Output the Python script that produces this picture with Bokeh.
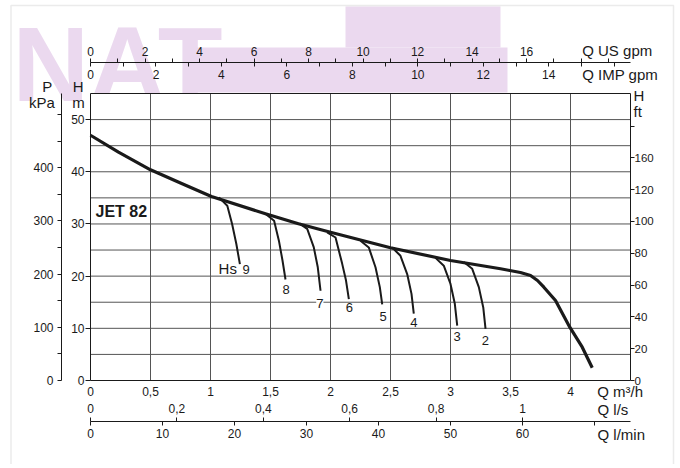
from bokeh.plotting import figure
from bokeh.models import Range1d, LinearAxis, FixedTicker, Label, BoxAnnotation, ColumnDataSource
from bokeh.core.properties import value
from bokeh.embed import file_html
from bokeh.resources import INLINE

FONT = "Liberation Sans"
INK = "#1a1a1a"

# ---------------- data ----------------
# main pump curve (Q m3/h, H m)
curve_q = [0.0, 0.233, 0.5, 0.764, 1.008, 1.458, 1.733, 2.0, 2.5, 3.0, 3.417, 3.494, 3.583, 3.667, 3.725, 3.778, 3.875, 3.994, 4.098, 4.181]
curve_h = [47.0, 43.75, 40.38, 37.7, 35.26, 31.95, 30.03, 28.42, 25.43, 23.0, 21.41, 21.08, 20.70, 20.12, 19.16, 17.88, 15.33, 10.21, 6.38, 2.43]

# suction-lift curves Hs 9 ... 2
hs_names = ["9", "8", "7", "6", "5", "4", "3", "2"]
hs_q = [
    [1.07, 1.14, 1.18, 1.215, 1.245],
    [1.46, 1.53, 1.57, 1.60, 1.625],
    [1.74, 1.806, 1.861, 1.894, 1.917],
    [1.972, 2.042, 2.097, 2.129, 2.153],
    [2.25, 2.319, 2.375, 2.411, 2.431],
    [2.514, 2.583, 2.639, 2.675, 2.694],
    [2.875, 2.944, 3.0, 3.036, 3.056],
    [3.111, 3.181, 3.236, 3.273, 3.292],
]
hs_h = [
    [35.1, 33.5, 30.0, 26.2, 22.3],
    [31.9, 30.6, 26.8, 23.0, 19.35],
    [30.1, 29.05, 25.5, 21.7, 17.2],
    [28.4, 27.4, 22.4, 19.2, 15.6],
    [26.8, 25.5, 21.7, 17.9, 14.6],
    [25.5, 23.9, 20.4, 16.6, 12.8],
    [23.5, 22.0, 18.5, 14.7, 10.5],
    [22.7, 21.4, 17.9, 14.0, 9.9],
]
hs_label_q = [1.2975, 1.631, 1.911, 2.158, 2.439, 2.694, 3.056, 3.29]
hs_label_h = [21.2, 17.4, 14.7, 13.9, 12.3, 11.1, 8.5, 7.7]

# axis ticks / labels
q_ticks = [0, 0.5, 1, 1.5, 2, 2.5, 3, 3.5, 4]
q_labels = ["0", "0,5", "1", "1,5", "2", "2,5", "3", "3,5", "4"]
ls_ticks = [0, 0.2, 0.4, 0.6, 0.8, 1.0]
ls_labels = ["0", "0,2", "0,4", "0,6", "0,8", "1"]
lmin_ticks = [0, 10, 20, 30, 40, 50, 60, 70]
lmin_labels = ["0", "10", "20", "30", "40", "50", "60", ""]
us_ticks = list(range(0, 20))
us_labels = [str(t) if (t % 2 == 0 and t <= 16) else "" for t in us_ticks]
imp_ticks = list(range(0, 17))
imp_label_ticks = [0, 2, 4, 6, 8, 10, 12, 14]
m_ticks = [0, 10, 20, 30, 40, 50]
kpa_ticks = [0, 100, 200, 300, 400]
kpa_minor = [50, 150, 250, 350, 450, 500]
ft_ticks = [0, 20, 40, 60, 80, 100, 120, 140, 160]
ft_labels = ["0", "20", "40", "60", "80", "100", "120", "160", ""]
grid_q = [0.5, 1, 1.5, 2, 2.5, 3, 3.5, 4]
grid_h = [5, 10, 15, 20, 25, 30, 35, 40, 45, 50]
Q_MAX, H_MAX = 4.5, 55

# unit conversions (per m3/h or per m)
KPA_PER_M = 9.80665
FT_PER_M = 1 / 0.3048
US_PER_M3H = 1 / 0.227125
IMP_PER_M3H = 1 / 0.272765
LS_PER_M3H = 1 / 3.6
LMIN_PER_M3H = 1000 / 60

# ---------------- canvas geometry ----------------
W, HGT = 676, 464
FX0, FX1 = 90, 630      # pixel x of Q=0 and Q=4.5
FY0, FY1 = 380, 93      # pixel y of H=0 and H=55


def px2q(px):
    return (px - FX0) * Q_MAX / (FX1 - FX0)


def py2h(py):
    return (FY0 - py) * H_MAX / (FY0 - FY1)


xr = Range1d(px2q(0), px2q(W))
yr = Range1d(py2h(HGT), py2h(0))

p = figure(width=W, height=HGT, x_range=xr, y_range=yr, output_backend="svg",
           toolbar_location=None, x_axis_location=None, y_axis_location=None, min_border=0)
p.outline_line_color = None
p.background_fill_color = "white"
p.border_fill_color = "white"
p.grid.visible = False

p.extra_y_ranges = {
    "kpa": Range1d(yr.start * KPA_PER_M, yr.end * KPA_PER_M),
    "ft": Range1d(yr.start * FT_PER_M, yr.end * FT_PER_M),
}
p.extra_x_ranges = {
    "us": Range1d(xr.start * US_PER_M3H, xr.end * US_PER_M3H),
    "imp": Range1d(xr.start * IMP_PER_M3H, xr.end * IMP_PER_M3H),
    "ls": Range1d(xr.start * LS_PER_M3H, xr.end * LS_PER_M3H),
    "lmin": Range1d(xr.start * LMIN_PER_M3H, xr.end * LMIN_PER_M3H),
}

# ---------------- decoration (watermark & outer frame) ----------------
LAV = "#ebd9ef"
p.add_layout(BoxAnnotation(left=px2q(183), right=px2q(507), top=py2h(47), bottom=py2h(92),
                           fill_color=LAV, fill_alpha=1, line_color=None, level="underlay"))
p.add_layout(BoxAnnotation(left=px2q(345), right=px2q(500), top=py2h(6), bottom=py2h(47),
                           fill_color=LAV, fill_alpha=1, line_color=None, level="underlay"))
p.add_layout(Label(x=px2q(12), y=py2h(63), text="NAT", text_font=FONT, text_font_size="106px",
                   text_font_style="bold", text_color=LAV, text_baseline="middle", level="underlay"))
p.add_layout(BoxAnnotation(left=px2q(10.5), right=px2q(673), top=py2h(5), bottom=py2h(490),
                           fill_alpha=0, line_color="#bdbdbd", line_width=1.5, level="underlay"))

# ---------------- grid ----------------
p.rect(x=Q_MAX / 2, y=H_MAX / 2, width=Q_MAX, height=H_MAX, fill_color="white", line_color=None)
p.segment(x0=grid_q, y0=[0] * len(grid_q), x1=grid_q, y1=[H_MAX] * len(grid_q),
          line_color="#555555", line_width=1)
p.segment(x0=[0] * len(grid_h), y0=grid_h, x1=[Q_MAX] * len(grid_h), y1=grid_h,
          line_color="#555555", line_width=1)
p.line(x=[0, Q_MAX], y=[H_MAX, H_MAX], line_color=INK, line_width=1)


def style(ax, size="12px"):
    ax.axis_line_color = INK
    ax.major_tick_line_color = INK
    ax.minor_tick_line_color = INK
    ax.major_label_text_font = FONT
    ax.major_label_text_font_size = size
    ax.major_label_text_color = INK
    ax.minor_tick_in = 0
    ax.minor_tick_out = 0
    ax.major_tick_in = 0


# m3/h axis (bottom of the grid)
xa = LinearAxis(fixed_location=0, bounds=(0, Q_MAX), ticker=FixedTicker(ticks=q_ticks),
                major_label_overrides=dict(zip(q_ticks, q_labels)))
style(xa)
xa.major_tick_out = 0
xa.major_label_standoff = 6
p.add_layout(xa, "below")

# l/s labels
ls_ax = LinearAxis(x_range_name="ls", fixed_location=py2h(401), bounds=(0, Q_MAX * LS_PER_M3H),
                   ticker=FixedTicker(ticks=ls_ticks), major_label_overrides=dict(zip(ls_ticks, ls_labels)))
style(ls_ax)
ls_ax.axis_line_color = None
ls_ax.major_tick_line_color = None
ls_ax.major_tick_out = 0
ls_ax.major_label_standoff = 2
p.add_layout(ls_ax, "below")

# l/min axis, with the l/s ticks pointing up
lmin_ax = LinearAxis(x_range_name="lmin", fixed_location=py2h(421), bounds=(0, Q_MAX * LMIN_PER_M3H),
                     ticker=FixedTicker(ticks=lmin_ticks, minor_ticks=[t * 60 for t in ls_ticks]),
                     major_label_overrides=dict(zip(lmin_ticks, lmin_labels)))
style(lmin_ax)
lmin_ax.major_tick_out = 4
lmin_ax.minor_tick_in = 4
lmin_ax.major_label_standoff = 3
p.add_layout(lmin_ax, "below")

# IMP gpm labels
imp_ax = LinearAxis(x_range_name="imp", fixed_location=py2h(80), bounds=(0, Q_MAX * IMP_PER_M3H),
                    ticker=FixedTicker(ticks=imp_label_ticks))
style(imp_ax)
imp_ax.axis_line_color = None
imp_ax.major_tick_line_color = None
imp_ax.major_tick_out = 0
imp_ax.major_label_standoff = 2
p.add_layout(imp_ax, "above")

# US gpm axis, with the IMP gpm ticks pointing down
us_ax = LinearAxis(x_range_name="us", fixed_location=py2h(62), bounds=(0, Q_MAX * US_PER_M3H),
                   ticker=FixedTicker(ticks=us_ticks, minor_ticks=[t * US_PER_M3H / IMP_PER_M3H for t in imp_ticks]),
                   major_label_overrides=dict(zip(us_ticks, us_labels)))
style(us_ax)
us_ax.major_tick_out = 4
us_ax.minor_tick_in = 4
us_ax.major_label_standoff = 3
p.add_layout(us_ax, "above")

# H m axis
ya = LinearAxis(fixed_location=0, bounds=(0, H_MAX), ticker=FixedTicker(ticks=m_ticks))
style(ya)
ya.major_tick_out = 5
ya.major_label_standoff = 1
p.add_layout(ya, "left")

# P kPa axis
kpa_ax = LinearAxis(y_range_name="kpa", fixed_location=px2q(61), bounds=(0, H_MAX * KPA_PER_M),
                    ticker=FixedTicker(ticks=kpa_ticks, minor_ticks=kpa_minor))
style(kpa_ax)
kpa_ax.major_tick_out = 4
kpa_ax.minor_tick_out = 4
kpa_ax.major_label_standoff = 4
p.add_layout(kpa_ax, "left")

# H ft axis
ft_ax = LinearAxis(y_range_name="ft", fixed_location=Q_MAX, bounds=(0, H_MAX * FT_PER_M),
                   ticker=FixedTicker(ticks=ft_ticks), major_label_overrides=dict(zip(ft_ticks, ft_labels)))
style(ft_ax, "11.5px")
ft_ax.major_tick_out = 4
ft_ax.major_label_standoff = 0
p.add_layout(ft_ax, "right")

# ---------------- curves ----------------
p.multi_line(xs=hs_q, ys=hs_h, line_color=INK, line_width=2)
p.line(curve_q, curve_h, line_color=INK, line_width=3.2, line_join="round")

lab_src = ColumnDataSource(dict(x=hs_label_q, y=hs_label_h, t=hs_names))
p.text(x="x", y="y", text="t", source=lab_src, text_font=value(FONT), text_font_size="13px",
       text_color=INK, text_align="center", text_baseline="middle")
p.add_layout(Label(x=hs_label_q[2], y=hs_label_h[2], text=hs_names[2], text_font=FONT,
                   text_font_size="13px", text_color=INK, text_align="center",
                   text_baseline="middle", background_fill_color="white"))
p.add_layout(Label(x=1.144, y=21.4, text="Hs", text_font=FONT, text_font_size="15px",
                   text_color=INK, text_align="center", text_baseline="middle"))
p.add_layout(Label(x=0.042, y=32.4, text="JET 82", text_font=FONT, text_font_size="16px",
                   text_font_style="bold", text_color=INK, text_align="left", text_baseline="middle"))

# ---------------- axis titles (pixel positions converted to data) ----------------
titles = [
    ("P", 46.7, 86, "center"),
    ("kPa", 41.3, 102, "center"),
    ("H", 77.7, 86, "center"),
    ("m", 78, 102, "center"),
    ("H", 633, 95, "left"),
    ("ft", 633, 110.7, "left"),
    ("Q US gpm", 581.7, 50, "left"),
    ("Q IMP gpm", 581.7, 74, "left"),
    ("Q m³/h", 596.7, 390.7, "left"),
    ("Q l/s", 597, 409, "left"),
    ("Q l/min", 597, 434, "left"),
]
for t, x, y, al in titles:
    p.add_layout(Label(x=px2q(x), y=py2h(y), text=t, text_font=FONT,
                       text_font_size="15px", text_color=INK, text_align=al,
                       text_baseline="middle"))

open("out.html", "w").write(file_html(p, INLINE))
